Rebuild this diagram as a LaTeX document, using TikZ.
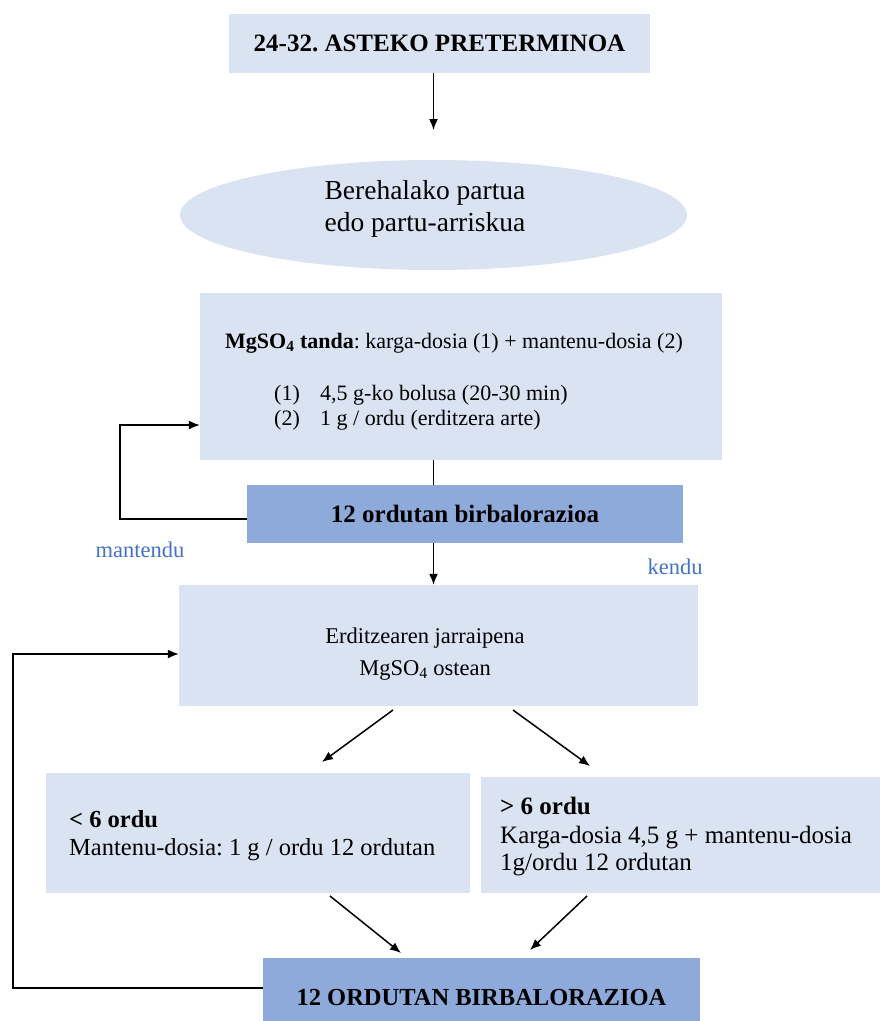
\documentclass[tikz,border=0pt]{standalone}
\usepackage{fontspec}
\setmainfont{Liberation Serif}
\frenchspacing
\usetikzlibrary{arrows.meta,shapes.geometric}
\definecolor{lightbox}{HTML}{DAE3F1}
\definecolor{darkbox}{HTML}{8EAADB}
\definecolor{labelblue}{HTML}{4472C4}
\tikzset{
  lbox/.style={fill=lightbox, draw=none, rectangle, inner sep=0pt},
  dbox/.style={fill=darkbox, draw=none, rectangle, inner sep=0pt},
  txt/.style={font=\fontsize{22}{26}\selectfont, inner sep=0pt, anchor=base west},
  lab/.style={font=\fontsize{22.5}{26}\selectfont, text=labelblue, inner sep=0pt},
  arr/.style={-{Latex[length=11pt,width=9pt]}, line width=1.5pt, black},
  ln/.style={line width=1.5pt, black}
}
\begin{document}
\begin{tikzpicture}[x=1pt,y=-1pt]
\useasboundingbox (0,0) rectangle (880,1021);
\begin{scope}
\clip (0,0) rectangle (880,1021);
% top
\node[lbox, minimum width=421pt, minimum height=59pt, font=\bfseries\fontsize{25}{30}\selectfont] (top) at (439.5,43.5) {24-32. ASTEKO PRETERMINOA};
% ellipse
\node[ellipse, fill=lightbox, draw=none, minimum width=507pt, minimum height=110pt, inner sep=0pt] (ell) at (433.5,215) {};
\node[align=center, inner sep=0pt, font=\fontsize{27.5}{32}\selectfont] (ellt) at (425,209) {Berehalako partua\\edo partu-arriskua};
% MgSO4 box
\node[lbox, minimum width=522pt, minimum height=167pt] (mg) at (461,376.5) {};
\node[txt] (mgt) at (225,348) {\textbf{MgSO\textsubscript{4} tanda}: karga-dosia (1) + mantenu-dosia (2)};
\node[txt] (l1n) at (274,400) {(1)};
\node[txt] (l1t) at (320,400) {4,5 g-ko bolusa (20-30 min)};
\node[txt] (l2n) at (274,425) {(2)};
\node[txt] (l2t) at (320,425) {1 g / ordu (erditzera arte)};
% reassess 1
\node[dbox, minimum width=436pt, minimum height=58pt, font=\bfseries\fontsize{25}{30}\selectfont] (r1) at (465,514) {12 ordutan birbalorazioa};
% follow-up
\node[lbox, minimum width=519pt, minimum height=121pt] (er) at (438.5,645.5) {};
\node[align=center, inner sep=0pt, font=\fontsize{22.5}{32}\selectfont] (ert) at (425,654) {Erditzearen jarraipena\\MgSO\textsubscript{4} ostean};
% branches
\node[lbox, minimum width=424pt, minimum height=120pt] (L) at (258,833) {};
\node[txt, font=\bfseries\fontsize{24.5}{28}\selectfont] (Lh) at (69,827) {< 6 ordu};
\node[txt, font=\fontsize{24.5}{28}\selectfont] (Lt) at (69,855) {Mantenu-dosia: 1 g / ordu 12 ordutan};
\node[lbox, minimum width=399pt, minimum height=116pt] (R) at (680.5,835) {};
\node[txt, font=\bfseries\fontsize{25}{28}\selectfont] (Rh) at (500,814) {> 6 ordu};
\node[txt, font=\fontsize{25}{28}\selectfont] (Rt1) at (500,843) {Karga-dosia 4,5 g + mantenu-dosia};
\node[txt, font=\fontsize{25}{28}\selectfont] (Rt2) at (500,870) {1g/ordu 12 ordutan};
% bottom
\node[dbox, minimum width=437pt, minimum height=78pt, font=\bfseries\fontsize{24.5}{30}\selectfont] (B) at (481.5,997) {12 ORDUTAN BIRBALORAZIOA};
% labels
\node[lab] (mant) at (140,550) {mantendu};
\node[lab] (kend) at (675,567) {kendu};
% connectors
\draw[arr] (top.south -| ell.north) -- (ell.north |- 0,130);
\draw[ln] (ell.south |- mg.south) -- (ell.south |- r1.north);
\coordinate (r1l) at (r1.west |- 0,519);
\coordinate (mgl) at (mg.west |- 0,425);
\draw[arr] (r1l) -- (120,519) |- (mgl);
\draw[arr] (ell.south |- r1.south) -- (ell.south |- er.north);
\coordinate (ea1) at (393,710);
\coordinate (eb1) at (322,762);
\coordinate (ea2) at (513,710);
\coordinate (eb2) at (590,766);
\draw[arr] (ea1) -- (eb1);
\draw[arr] (ea2) -- (eb2);
\coordinate (la) at (330,896);
\coordinate (lb) at (401,953);
\coordinate (ra) at (587,896);
\coordinate (rb) at (530,950);
\draw[arr] (la) -- (lb);
\draw[arr] (ra) -- (rb);
\coordinate (bl) at (B.west |- 0,988);
\coordinate (erl) at (er.west |- 0,654);
\draw[arr] (bl) -- (13,988) |- (erl);
\end{scope}
\end{tikzpicture}
\end{document}
